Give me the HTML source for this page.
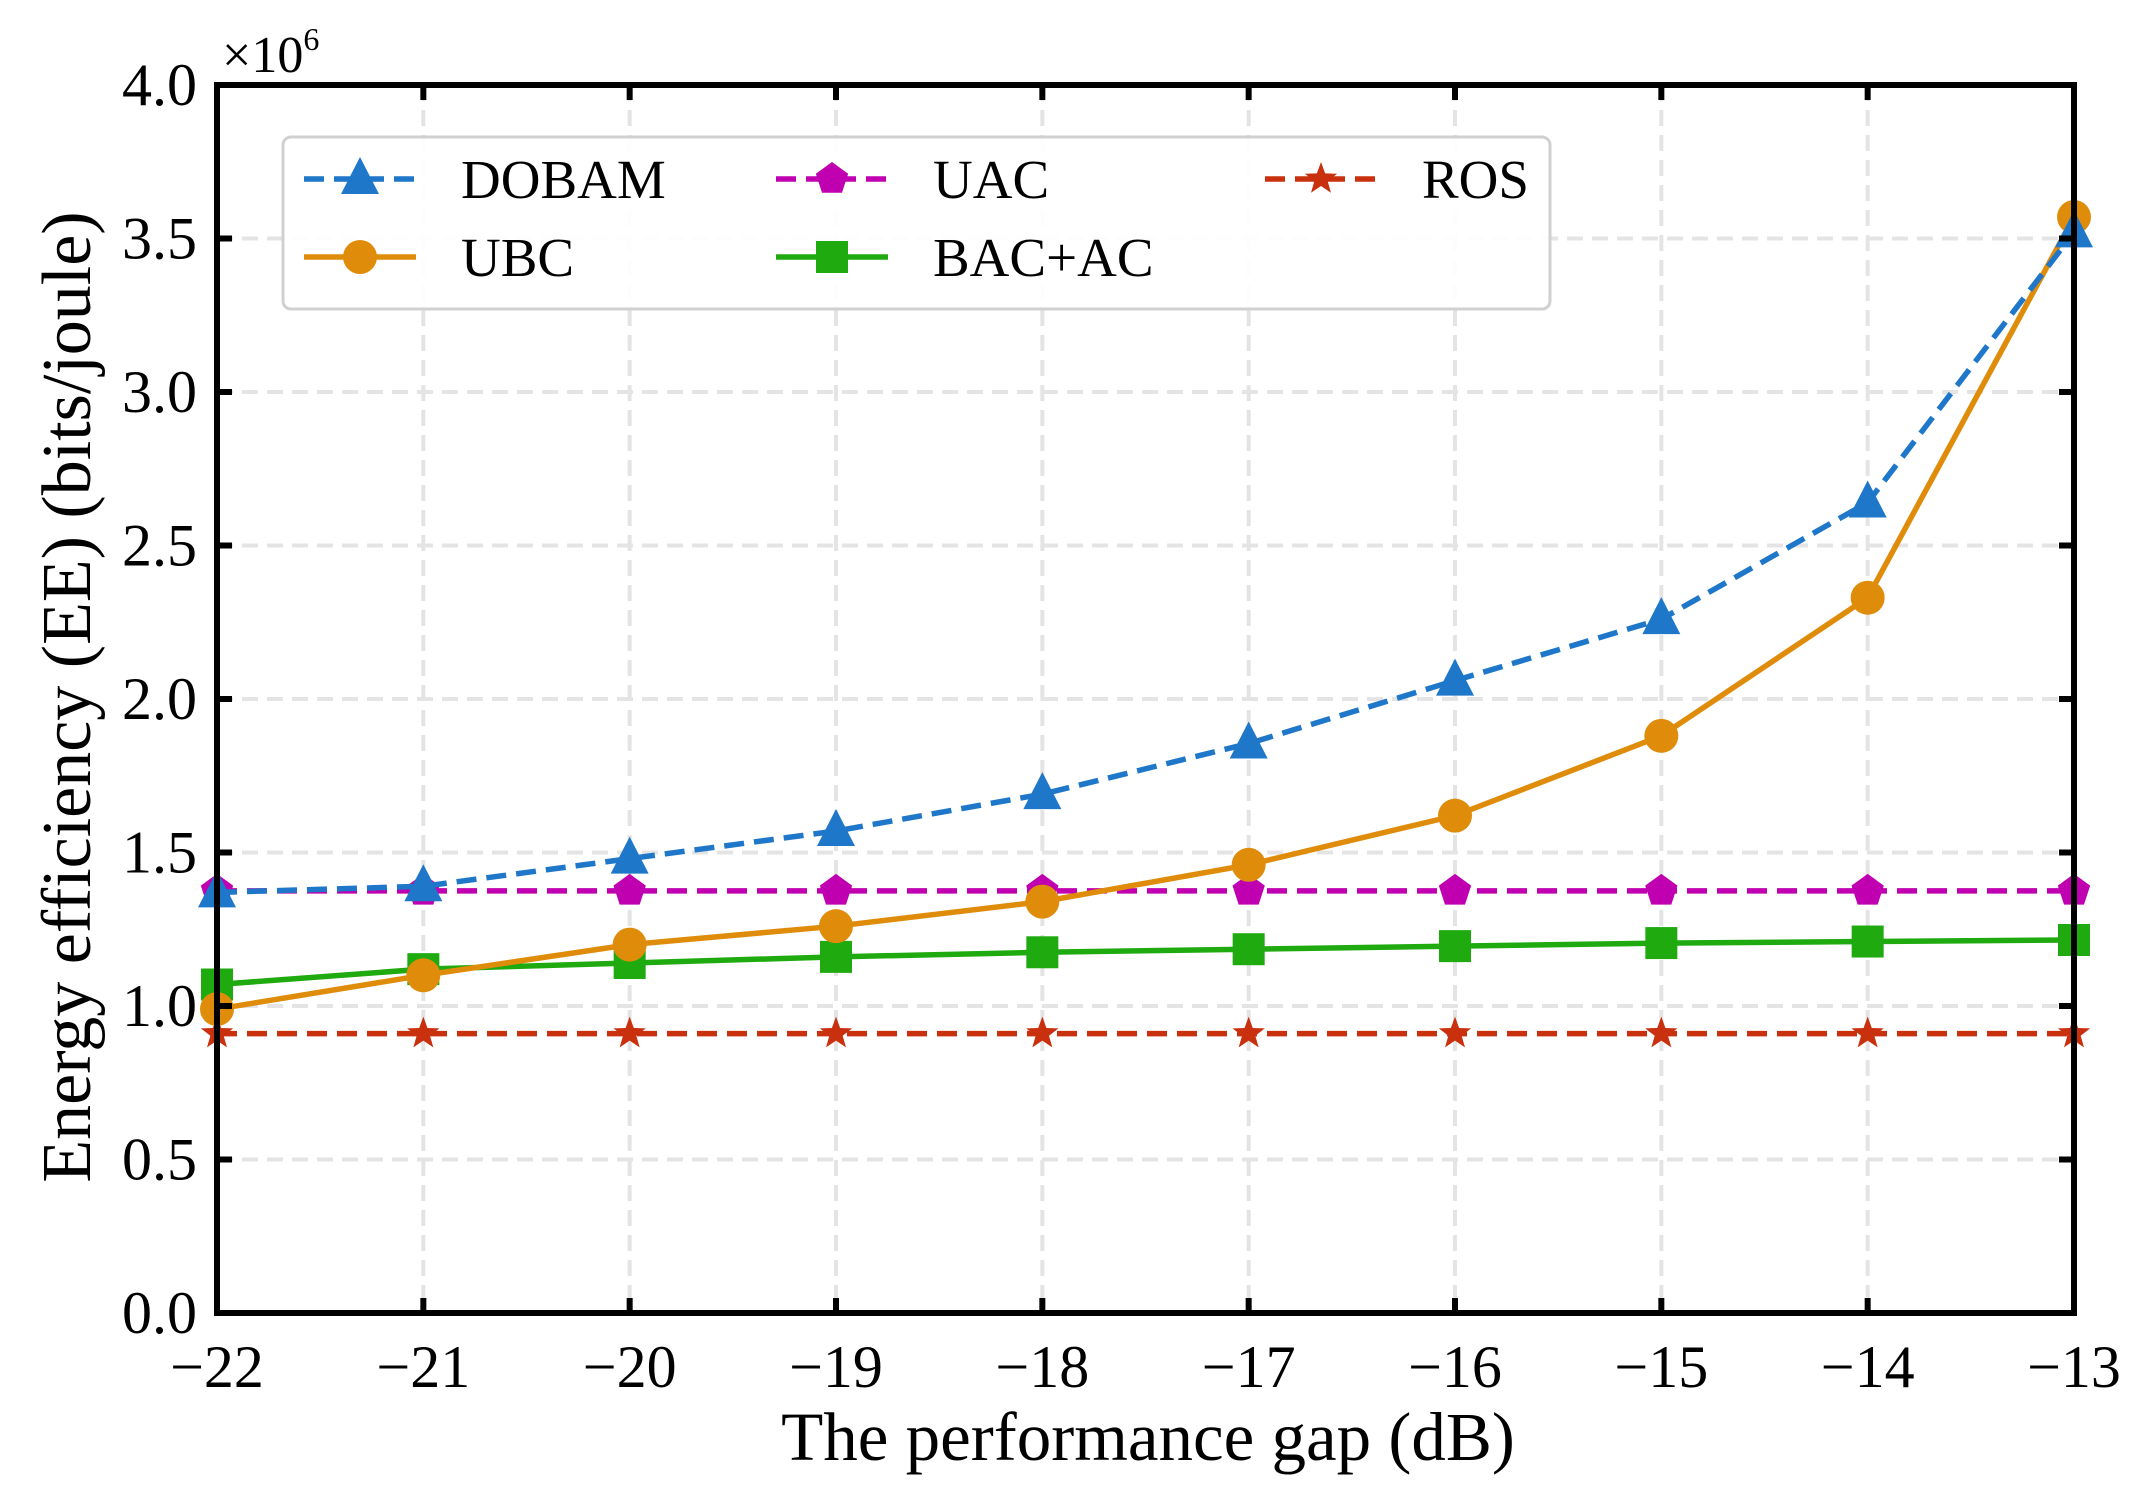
<!DOCTYPE html>
<html><head><meta charset="utf-8"><style>
html,body{margin:0;padding:0;background:#fff}
svg text{font-family:"Liberation Serif",serif;fill:#000}
</style></head><body>
<svg id="chart" width="2146" height="1503" viewBox="0 0 2146 1503" xmlns="http://www.w3.org/2000/svg">
<g id="grid"></g>
<g id="series"></g>
<rect x="217" y="85" width="1857" height="1228" fill="none" stroke="#000" stroke-width="6"/>
<g id="ticks"></g>
<text x="222" y="72" font-size="52">×10<tspan font-size="32" dy="-22">6</tspan></text>
<text x="1148" y="1460" font-size="69" text-anchor="middle">The performance gap (dB)</text>
<text transform="translate(90,697) rotate(-90)" font-size="70" text-anchor="middle">Energy efficiency (EE) (bits/joule)</text>
<g id="legend">
<rect x="283" y="137" width="1267" height="172" rx="8" fill="#fff" fill-opacity="0.9" stroke="#d0d0d0" stroke-width="3"/>
</g>
</svg>
<script>
const categories = [-22,-21,-20,-19,-18,-17,-16,-15,-14,-13];
const dobam = [1.37,1.39,1.48,1.57,1.69,1.855,2.06,2.26,2.64,3.52];
const ubc = [0.99,1.10,1.20,1.26,1.34,1.46,1.62,1.88,2.33,3.57];
const uac = [1.375,1.375,1.375,1.375,1.375,1.375,1.375,1.375,1.375,1.375];
const bacac = [1.07,1.12,1.14,1.16,1.175,1.185,1.195,1.205,1.21,1.215];
const ros = [0.91,0.91,0.91,0.91,0.91,0.91,0.91,0.91,0.91,0.91];
const xTicks = [-22,-21,-20,-19,-18,-17,-16,-15,-14,-13];
const yTicks = [0,0.5,1.0,1.5,2.0,2.5,3.0,3.5,4.0];
const yTickLabels = ["0.0","0.5","1.0","1.5","2.0","2.5","3.0","3.5","4.0"];
const seriesNames = ["DOBAM","UBC","UAC","BAC+AC","ROS"];

const L=217,R=2074,T=85,B=1313;
const xs=v=>L+(v-(-22))/9*(R-L);
const ys=v=>B-(v/4)*(B-T);
const NS="http://www.w3.org/2000/svg";
function mk(tag,attrs,parent){const e=document.createElementNS(NS,tag);for(const k in attrs)e.setAttribute(k,attrs[k]);parent.appendChild(e);return e;}
const grid=document.getElementById('grid'),ticks=document.getElementById('ticks'),ser=document.getElementById('series'),leg=document.getElementById('legend');

xTicks.forEach((t,i)=>{
  const x=xs(t);
  const g=mk('line',{x1:x,x2:x,y1:T,y2:B,stroke:'#e4e4e4','stroke-width':4,'stroke-dasharray':'16 9'},grid);
  
  
  const a=mk('line',{x1:x,x2:x,y1:B,y2:B-15,stroke:'#000','stroke-width':6},ticks);
  
  
  const b=mk('line',{x1:x,x2:x,y1:T,y2:T+15,stroke:'#000','stroke-width':6},ticks);
  
  
  const tx=mk('text',{x:x,y:1387,'font-size':60,'text-anchor':'middle'},ticks);
  tx.textContent='\u2212'+Math.abs(t);
  
  
});
yTicks.forEach((t,i)=>{
  const y=ys(t);
  const g=mk('line',{x1:L,x2:R,y1:y,y2:y,stroke:'#e4e4e4','stroke-width':4,'stroke-dasharray':'16 9'},grid);
  
  
  const a=mk('line',{x1:L,x2:L+15,y1:y,y2:y,stroke:'#000','stroke-width':6},ticks);
  
  
  const b=mk('line',{x1:R,x2:R-15,y1:y,y2:y,stroke:'#000','stroke-width':6},ticks);
  
  
  const tx=mk('text',{x:197,y:y+20,'font-size':60,'text-anchor':'end'},ticks);
  tx.textContent=yTickLabels[i];
  
  
});

function marker(type,x,y,color,parent){
  let e;const s=19;
  if(type==='tri'){e=mk('polygon',{points:`${x},${y-s-3} ${x-s},${y+s-4} ${x+s},${y+s-4}`,fill:color},parent);}
  else if(type==='circ'){e=mk('circle',{cx:x,cy:y,r:17,fill:color},parent);}
  else if(type==='sq'){e=mk('rect',{x:x-16,y:y-16,width:32,height:32,fill:color},parent);}
  else if(type==='pent'){let p=[];for(let k=0;k<5;k++){const a=-Math.PI/2+k*2*Math.PI/5;p.push((x+17*Math.cos(a))+','+(y+17*Math.sin(a)));}e=mk('polygon',{points:p.join(' '),fill:color},parent);}
  else {let p=[];for(let k=0;k<10;k++){const a=-Math.PI/2+k*Math.PI/5;const r=k%2?7:17;p.push((x+r*Math.cos(a))+','+(y+r*Math.sin(a)));}e=mk('polygon',{points:p.join(' '),fill:color},parent);}
  return e;
}
const defs=[
 {name:'dobam',data:dobam,color:'#1f77c9',dash:'20 10',m:'tri'},
 {name:'ubc',data:ubc,color:'#e08c0b',dash:'',m:'circ'},
 {name:'uac',data:uac,color:'#c000b0',dash:'20 10',m:'pent'},
 {name:'bac-ac',data:bacac,color:'#1faa10',dash:'',m:'sq'},
 {name:'ros',data:ros,color:'#c8300e',dash:'20 10',m:'star'}
];
const order=[4,2,3,1,0];
order.forEach(i=>{
  const d=defs[i];
  const g=mk('g',{},ser);
  
  
  const pts=d.data.map((v,j)=>xs(categories[j])+','+ys(v)).join(' ');
  const pl=mk('polyline',{points:pts,fill:'none',stroke:d.color,'stroke-width':5.5,'stroke-dasharray':d.dash},g);
  
  
  d.data.forEach((v,j)=>{
    const m=marker(d.m,xs(categories[j]),ys(v),d.color,g);
    
    
  });
});
const legPos=[[304,179],[304,257],[776,179],[776,257],[1265,179]];
const legDef=[0,1,2,3,4];
legDef.forEach((i,k)=>{
  const d=defs[i];const [x,y]=legPos[k];
  const g=mk('g',{},leg);
  
  
  mk('line',{x1:x,x2:x+112,y1:y,y2:y,stroke:d.color,'stroke-width':5.5,'stroke-dasharray':d.dash},g);
  marker(d.m,x+56,y,d.color,g);
  const t=mk('text',{x:x+157,y:y+19,'font-size':55},g);
  t.textContent=seriesNames[i];
});
</script>
</body></html>
